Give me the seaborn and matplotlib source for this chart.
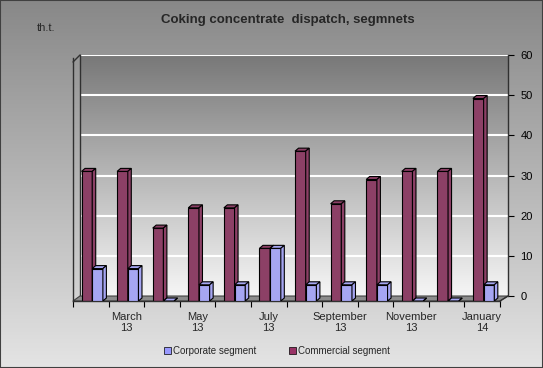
import numpy as np
import pandas as pd
import matplotlib
matplotlib.use("Agg")
import matplotlib.pyplot as plt
from matplotlib.colors import LinearSegmentedColormap
from matplotlib.patches import Polygon, Rectangle
import seaborn as sns

# data (thousand tonnes), Feb 2013 - Jan 2014
months = ["Feb 13", "Mar 13", "Apr 13", "May 13", "Jun 13", "Jul 13",
          "Aug 13", "Sep 13", "Oct 13", "Nov 13", "Dec 13", "Jan 14"]
tick_labels = ["", "March\n13", "", "May\n13", "", "July\n13",
               "", "September\n13", "", "November\n13", "", "January\n14"]
commercial = [32, 32, 18, 23, 23, 13, 37, 24, 30, 32, 32, 50]
corporate = [8, 8, 0, 4, 4, 13, 4, 4, 4, 0, 0, 4]

df = pd.DataFrame({
    "month": months * 2,
    "segment": ["Commercial segment"] * 12 + ["Corporate segment"] * 12,
    "value": commercial + corporate,
})

sns.set_theme(style="white")
plt.rcParams["font.family"] = ["Liberation Sans", "DejaVu Sans"]

W, H = 543, 368
fig = plt.figure(figsize=(W / 100, H / 100), dpi=100)

def fx(px):
    return px / W

def fy(py):
    return 1 - py / H

# figure background gradient
bg = fig.add_axes([0, 0, 1, 1], zorder=-10)
bg_cmap = LinearSegmentedColormap.from_list("bg", ["#888888", "#e4e4e4"])
bg.imshow(np.linspace(0, 1, 256).reshape(-1, 1), aspect="auto", cmap=bg_cmap,
          extent=(0, 1, 0, 1))
bg.set_xlim(0, 1)
bg.set_ylim(0, 1)
bg.axis("off")
bg.add_patch(Rectangle((0, 0), 1, 1, transform=bg.transAxes, fill=False,
                       edgecolor="#404040", linewidth=1.5))

# back wall with value axis on the right
wall = fig.add_axes([fx(80), fy(296), 428 / W, 241 / H], zorder=-5)
wall_cmap = LinearSegmentedColormap.from_list("wall", ["#787878", "#f6f6f6"])
wall.imshow(np.linspace(0, 1, 256).reshape(-1, 1), aspect="auto", cmap=wall_cmap,
            extent=(0, 1, 0, 60))
wall.set_xlim(0, 1)
wall.set_ylim(0, 60)
wall.set_yticks(range(0, 61, 10))
wall.yaxis.tick_right()
wall.tick_params(axis="y", direction="out", length=4, width=0.8, labelsize=8,
                 pad=5, colors="black", right=True, left=False)
wall.set_xticks([])
wall.grid(axis="y", color="white", linewidth=1.5)
for side in ["top", "bottom"]:
    wall.spines[side].set_visible(False)
wall.spines["left"].set_color("#303030")
wall.spines["right"].set_color("#303030")
wall.spines["left"].set_linewidth(1)
wall.spines["right"].set_linewidth(1)

# floor and left wall edge
floor = Polygon([(fx(73), fy(301)), (fx(500), fy(301)), (fx(508), fy(296)), (fx(80), fy(296))],
                closed=True, transform=fig.transFigure, facecolor="#8c8c8c",
                edgecolor="#404040", linewidth=0.8, zorder=-4)
fig.patches.append(floor)
fig.lines.append(plt.Line2D([fx(73), fx(80)], [fy(62), fy(55)], transform=fig.transFigure,
                            color="#303030", linewidth=1))
fig.lines.append(plt.Line2D([fx(500), fx(508)], [fy(301), fy(296)], transform=fig.transFigure,
                            color="#303030", linewidth=1))

# front plane with the bars
ax = fig.add_axes([fx(73), fy(301), 427 / W, 243 / H])
ax.patch.set_alpha(0)
sns.barplot(data=df, x="month", y="value", hue="segment", order=months,
            hue_order=["Commercial segment", "Corporate segment"],
            palette=["#993366", "#9999ff"], width=0.6, edgecolor="black",
            linewidth=0.8, legend=False, ax=ax)
ax.set_xlim(-0.5, 11.5)
ax.set_ylim(0, 60)

# pseudo 3D faces
dx = 3.5 / (427 / 12)
dy = 3.0 / (243 / 60)
side_colors = {"#993366": "#5a1e3c", "#9999ff": "#5c5cb0"}
top_colors = {"#993366": "#7a2950", "#9999ff": "#8080e0"}
bars = [p for p in ax.patches if isinstance(p, Rectangle)]
for i, p in enumerate(bars):
    z = 2 + i // 12
    p.set_zorder(z)
    p.set_x(p.get_x() + 0.04)
    x0, w, h = p.get_x(), p.get_width(), p.get_height()
    fc = matplotlib.colors.to_hex(p.get_facecolor())
    top = Polygon([(x0, h), (x0 + dx, h + dy), (x0 + w + dx, h + dy), (x0 + w, h)],
                  closed=True, facecolor=top_colors.get(fc, fc), edgecolor="black",
                  linewidth=0.8, zorder=z)
    side = Polygon([(x0 + w, 0), (x0 + w, h), (x0 + w + dx, h + dy), (x0 + w + dx, dy)],
                   closed=True, facecolor=side_colors.get(fc, fc), edgecolor="black",
                   linewidth=0.8, zorder=z)
    ax.add_patch(top)
    ax.add_patch(side)

ax.set_xticks(np.arange(-0.5, 12, 1))
ax.set_xticklabels([])
ax.set_xticks(range(12), minor=True)
ax.set_xticklabels(tick_labels, minor=True, fontsize=8, linespacing=1.1)
ax.tick_params(axis="x", which="major", direction="out", length=4, width=0.8,
               colors="black", bottom=True)
ax.tick_params(axis="x", which="minor", length=0, pad=8)
ax.set_yticks([])
ax.set_xlabel("")
ax.set_ylabel("")
for side in ["top", "right"]:
    ax.spines[side].set_visible(False)
ax.spines["left"].set_color("#303030")
ax.spines["bottom"].set_color("#303030")
ax.spines["left"].set_linewidth(1)
ax.spines["bottom"].set_linewidth(1)

# titles
fig.text(fx(288), fy(20), "Coking concentrate  dispatch, segmnets", ha="center",
         va="center", fontsize=9.5, fontweight="bold")
fig.text(fx(37), fy(28), "th.t.", ha="left", va="center", fontsize=8)

# legend
handles = [Rectangle((0, 0), 1, 1, facecolor="#9999ff", edgecolor="black", linewidth=0.5),
           Rectangle((0, 0), 1, 1, facecolor="#993366", edgecolor="black", linewidth=0.5)]
fig.legend(handles, ["Corporate segment", "Commercial segment"], loc="center",
           bbox_to_anchor=(fx(277), fy(351)), ncol=2, frameon=False, fontsize=7,
           handlelength=0.7, handleheight=0.7, handletextpad=0.2, columnspacing=3.4)

fig.savefig("out.png", dpi=100)
